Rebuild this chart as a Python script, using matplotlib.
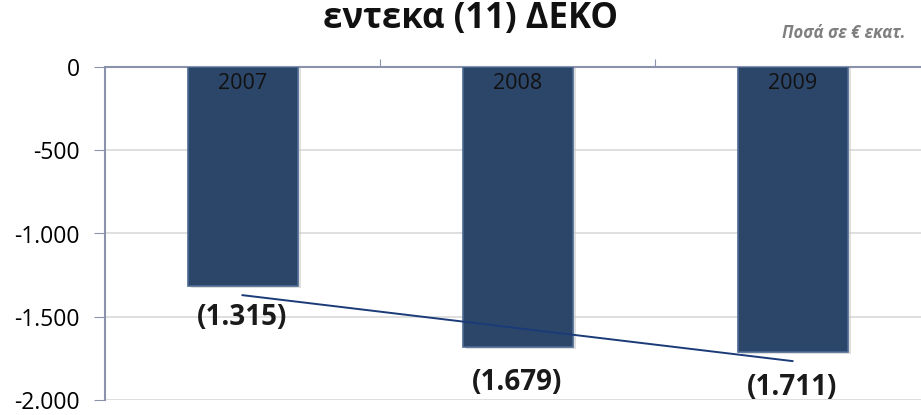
import numpy as np
import matplotlib.pyplot as plt
from matplotlib.ticker import FuncFormatter

years = ["2007", "2008", "2009"]
values = [-1315, -1679, -1711]
value_labels = ["(1.315)", "(1.679)", "(1.711)"]
y_ticks = [0, -500, -1000, -1500, -2000]

plt.rcParams["font.family"] = ["Open Sans", "DejaVu Sans"]

fig = plt.figure(figsize=(9.21, 4.15), dpi=100)
ax = fig.add_axes([105 / 921, 15 / 415, 825 / 921, 333 / 415])

x = np.arange(len(years))
bar_color = "#2c4669"

# soft drop shadow, then the bars
ax.bar(x + 0.012, np.array(values) - 12, width=0.4, color="#c8c8c8", alpha=0.6, zorder=2)
ax.bar(x, values, width=0.4, color=bar_color, edgecolor="#4c6a92", linewidth=1.2, zorder=3)

# linear trend line through the bar values
k, b = np.polyfit(x, values, 1)
ax.plot(x, k * x + b, color="#1b3a78", lw=1.4, zorder=4)

for xi, yr in zip(x, years):
    ax.text(xi, -100, yr, ha="center", va="center", fontsize=15.5, color="#111111", zorder=5)

label_offsets = [-190, -215, -212]
for xi, v, lab, off in zip(x, values, value_labels, label_offsets):
    ax.text(xi, v + off, lab, ha="center", va="center", fontsize=20, fontweight="bold",
            color="#1a1a1a", zorder=5)

ax.set_xlim(-0.5, 2.5)
ax.set_ylim(-2000, 0)
ax.set_yticks(y_ticks)
ax.yaxis.set_major_formatter(FuncFormatter(lambda v, p: f"{int(v):,}".replace(",", ".")))
ax.tick_params(axis="y", labelsize=16.5, length=8, color="#8a93ab", pad=10)
ax.grid(axis="y", color="#d9d9d9", lw=1.2, zorder=0)
ax.set_axisbelow(True)

ax.xaxis.tick_top()
ax.set_xticks([0.5, 1.5])
ax.set_xticklabels([])
ax.tick_params(axis="x", length=6, color="#8a93ab")

for s in ["right", "bottom"]:
    ax.spines[s].set_visible(False)
ax.spines["left"].set_color("#8a93ab")
ax.spines["top"].set_color("#8a93ab")
ax.spines["left"].set_linewidth(1.5)
ax.spines["top"].set_linewidth(1.5)

fig.text(470 / 921, 1 - 28 / 415, "εντεκα (11) ΔΕΚΟ", ha="center", va="baseline",
         fontsize=25, fontweight="bold", color="#111111")
fig.text(905 / 921, 1 - 33 / 415, "Ποσά σε € εκατ.", ha="right", va="center",
         fontsize=12, fontweight="bold", style="italic", color="#7f7f7f")

fig.savefig("out.png", dpi=100)
